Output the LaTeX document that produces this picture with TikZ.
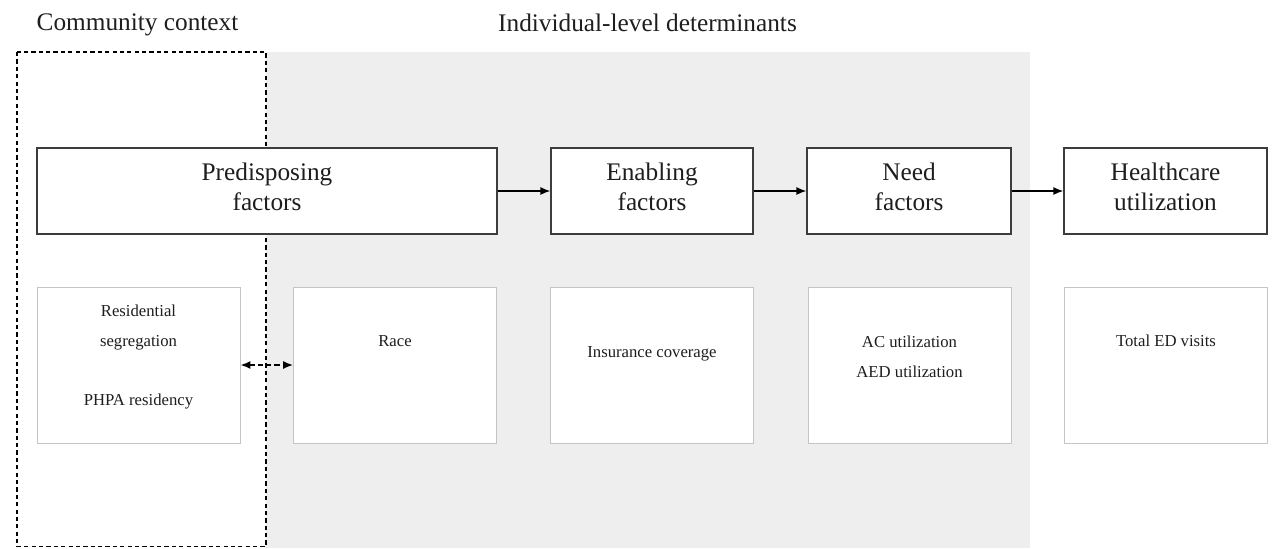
\documentclass[tikz,border=0pt]{standalone}
\usepackage{fontspec}
\setmainfont{Liberation Serif}
\usepackage{tikz}
\usetikzlibrary{arrows.meta}
\usetikzlibrary{positioning}
\definecolor{bgshade}{HTML}{EEEEEE}
\definecolor{boxedge}{HTML}{3C3C3C}
\definecolor{thinedge}{HTML}{C4C4C4}
\definecolor{ink}{HTML}{1E1E1E}
\tikzset{factor/.style = {draw=boxedge, line width=0.7pt, fill=white,
                          minimum height=1.72cm, inner sep=0pt, align=center,
                          text=ink, font=\fontsize{14.4}{17}\selectfont}}
\tikzset{item/.style = {draw=thinedge, line width=0.5pt, fill=white,
                        minimum width=4.06cm, minimum height=3.12cm, inner sep=0pt}}
\tikzset{itemtext/.style = {align=center, text=ink,
                            font=\fontsize{9.5}{17}\selectfont}}
\tikzset{heading/.style = {text=ink, font=\fontsize{14.4}{17}\selectfont}}
\tikzset{flow/.style = {-{Latex[length=2mm, width=1.6mm]}, line width=0.85pt}}

\begin{document}
\begin{tikzpicture}[x=0.02cm, y=-0.02cm]
      \useasboundingbox (0, 0) rectangle (1288, 548);
      \fill [bgshade] (266, 52) rectangle (1030, 548);
      \draw [line width=0.85pt, dash pattern=on 2.4pt off 1.8pt] (17, 52) rectangle (266, 546.5);

      \node [heading] (community) at (137.5, 25) {Community context};
      \node [heading] (individual) at (647.5, 23) {Individual-level determinants};

      % top row
      \node [factor, minimum width=9.2cm] (pred) at (267, 191) {Predisposing\\factors\strut};
      \node [factor, minimum width=4.04cm] (enab) at (652, 191) {Enabling\\factors\strut};
      \node [factor, minimum width=4.08cm] (need) at (909, 191) {Need\\factors\strut};
      \node [factor, minimum width=4.06cm] (util) at (1165.5, 191) {Healthcare\\utilization\strut};

      \draw [flow] (pred) -- (enab);
      \draw [flow] (enab) -- (need);
      \draw [flow] (need) -- (util);

      % bottom row
      \node [item] (segbox) at (138.5, 365) {};
      \node [item] (racebox) at (395, 365) {};
      \node [item] (insbox) at (652, 365) {};
      \node [item] (needbox) at (909.5, 365) {};
      \node [item] (visitbox) at (1166, 365) {};

      \node [itemtext] (seg) at (138.5, 357) {Residential\\segregation\\[17pt]PHPA residency};
      \node [itemtext] (race) at (395, 341) {Race};
      \node [itemtext] (ins) at (652, 354) {Insurance coverage};
      \node [itemtext] (acaed) at (909.5, 356.5) {AC utilization\\AED utilization};
      \node [itemtext] (visits) at (1166, 341) {Total ED visits};

      \draw [{Latex[length=2mm, width=1.6mm]}-{Latex[length=2mm, width=1.6mm]},
             line width=0.9pt, dash pattern=on 3pt off 1.7pt] (segbox) -- (racebox);
    \end{tikzpicture}
\end{document}
